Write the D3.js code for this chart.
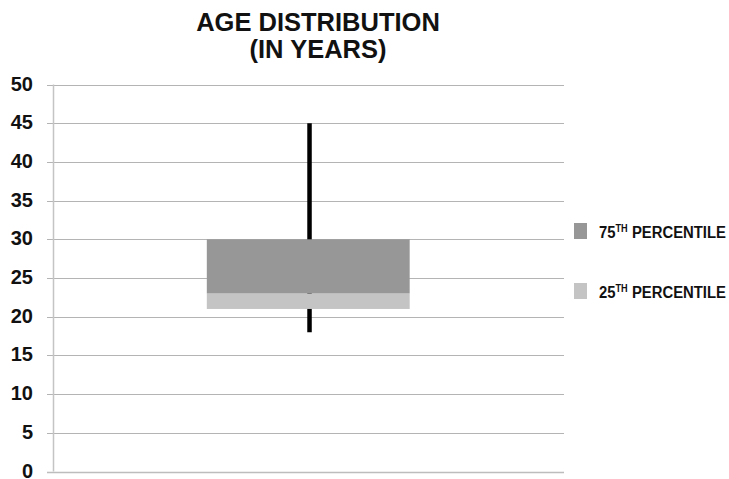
<!DOCTYPE html>
<html>
<head>
<meta charset="utf-8">
<script src="https://cdn.jsdelivr.net/npm/d3@7"></script>
<style>
  html, body { margin: 0; padding: 0; background: #fff; }
  svg { display: block; font-family: "Liberation Sans", Arial, sans-serif; }
</style>
</head>
<body>
<svg id="chart" width="729" height="479"></svg>
<script>
// Age distribution summary (years)
const titleLines = ["AGE DISTRIBUTION", "(IN YEARS)"];
const yTicks = [0, 5, 10, 15, 20, 25, 30, 35, 40, 45, 50];
const whisker = { min: 18, max: 45 };
// stacked box segments: [from, to]
const segments = [
  { name: "25", from: 21, to: 23 },
  { name: "75", from: 23, to: 30 }
];
const legendItems = [
  { num: "75", sup: "TH", rest: " PERCENTILE", key: "75" },
  { num: "25", sup: "TH", rest: " PERCENTILE", key: "25" }
];

const colors = { "75": "#979797", "25": "#c4c4c4" };

const svg = d3.select("#chart");
const plot = { left: 53, right: 564, top: 84.5, bottom: 471.5 };

const y = d3.scaleLinear().domain([0, 50]).range([plot.bottom, plot.top]);
const x = d3.scaleLinear().domain([0, 1]).range([plot.left, plot.right]);

// title
svg.append("g").selectAll("text").data(titleLines).join("text")
  .attr("x", 318)
  .attr("y", (d, i) => 31 + i * 27)
  .attr("text-anchor", "middle")
  .attr("font-weight", "bold")
  .attr("font-size", 25.5)
  .attr("fill", "#111")
  .text(d => d);

// gridlines
svg.append("g").selectAll("line").data(yTicks).join("line")
  .attr("x1", plot.left - 6).attr("x2", plot.right)
  .attr("y1", d => Math.round(y(d)) + 0.5).attr("y2", d => Math.round(y(d)) + 0.5)
  .attr("stroke", d => d === 0 ? "#bdbdbd" : "#b4b4b4")
  .attr("stroke-width", d => d === 0 ? 1.5 : 1);

// vertical axis line
svg.append("line")
  .attr("x1", plot.left + 0.5).attr("x2", plot.left + 0.5)
  .attr("y1", plot.top).attr("y2", plot.bottom)
  .attr("stroke", "#c4c4c4").attr("stroke-width", 1.5);

// y tick labels
svg.append("g").selectAll("text").data(yTicks).join("text")
  .attr("x", 33)
  .attr("y", d => y(d))
  .attr("dy", "0.3em")
  .attr("text-anchor", "end")
  .attr("font-weight", "bold")
  .attr("font-size", 20)
  .attr("fill", "#111")
  .text(d => d);

// whisker (min to max)
const cx = x(0.502);
svg.append("line")
  .attr("x1", cx).attr("x2", cx)
  .attr("y1", y(whisker.min)).attr("y2", y(whisker.max))
  .attr("stroke", "#000").attr("stroke-width", 4.5);

// box segments
const boxL = x(0.301), boxR = x(0.698);
svg.append("g").selectAll("rect").data(segments).join("rect")
  .attr("x", boxL)
  .attr("width", boxR - boxL)
  .attr("y", d => y(d.to))
  .attr("height", d => y(d.from) - y(d.to))
  .attr("fill", d => colors[d.name]);

// legend
const lg = svg.append("g").selectAll("g").data(legendItems).join("g")
  .attr("transform", (d, i) => `translate(574, ${223 + i * 60})`);
lg.append("rect")
  .attr("width", 13).attr("height", 16)
  .attr("fill", d => colors[d.key]);
const lt = lg.append("text")
  .attr("font-weight", "bold")
  .attr("font-size", 17)
  .attr("fill", "#111");
lt.append("tspan").text(d => d.num);
lt.append("tspan").attr("dy", -6).attr("font-size", 10.5).text(d => d.sup);
lt.append("tspan").attr("dy", 6).text(d => d.rest);
// legend labels are set in a condensed width so they fit beside the plot
const labelWidth = 127;
lt.each(function () {
  const w = this.getComputedTextLength();
  const k = Math.min(1, labelWidth / w);
  d3.select(this).attr("transform", `translate(25, 15) scale(${k}, 1)`);
});
</script>
</body>
</html>
